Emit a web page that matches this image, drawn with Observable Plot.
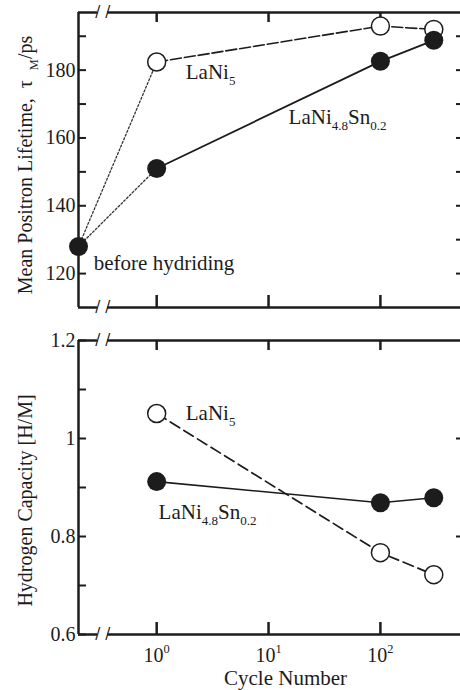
<!DOCTYPE html>
<html><head><meta charset="utf-8">
<script src="https://cdn.jsdelivr.net/npm/d3@7"></script>
<script src="https://cdn.jsdelivr.net/npm/@observablehq/plot@0.6"></script>
<style>
body{margin:0;background:#fff;}
#chart{position:relative;width:460px;height:690px;overflow:hidden;background:#fff;}
#chart svg{display:block;}
</style></head><body><div id="chart"></div>
<script>
// ---------- data ----------
// "before hydriding" is drawn at the origin of the (broken) log axis
const cycles = [0.2, 1, 100, 300];
const lifetimeLaNi5 = [128, 182.4, 193, 192];
const lifetimeSn = [128, 151, 182.6, 188.8];
const capCycles = [1, 100, 300];
const capacityLaNi5 = [1.051, 0.767, 0.722];
const capacitySn = [0.912, 0.869, 0.879];

const xDomain = [0.2, 520];
const xTicks = [1, 10, 100];
const breakX = [0.297, 0.365];

const lifeDomain = [110, 197];
const lifeTicks = [120, 140, 160, 180];
const lifeMinor = [120, 130, 140, 150, 160, 170, 180, 190];
const capDomain = [0.6, 1.2];
const capTicks = [0.6, 0.8, 1, 1.2];
const capMinor = [0.6, 0.7, 0.8, 0.9, 1.0, 1.1, 1.2];
const capRight = [0.8, 1.0];

const topLabels = ["LaNi_{5}", "LaNi_{4.8}Sn_{0.2}", "before hydriding"];
const topLabelX = [1.82, 15.1, 0.274];
const topLabelY = [179.3, 166.2, 122.9];
const botLabels = ["LaNi_{5}", "LaNi_{4.8}Sn_{0.2}"];
const botLabelX = [1.82, 1.04];
const botLabelY = [1.051, 0.85];

const yTitleTop = "Mean Positron Lifetime,  τ  _{M}/ps";
const yTitleBot = "Hydrogen Capacity [H/M]";
const xTitle = "Cycle Number";

// ---------- tables ----------
const lifeRows = cycles.map((c, i) => ({cycle: c, a: lifetimeLaNi5[i], b: lifetimeSn[i]}));
const capRows = capCycles.map((c, i) => ({cycle: c, a: capacityLaNi5[i], b: capacitySn[i]}));
const topLab = topLabels.map((t, i) => ({t, x: topLabelX[i], y: topLabelY[i]}));
const botLab = botLabels.map((t, i) => ({t, x: botLabelX[i], y: botLabelY[i]}));

const FONT = "'Liberation Serif','Times New Roman',serif";
const INK = "#1c1c1c";
const ML = 78, W = 460, FW = W - ML;

function frameMarks(domain, minor, rightTicks, FH) {
  const breaks = breakX.flatMap(x => domain.map(y => ({x, y})));
  return [
    Plot.ruleX([xDomain[0]], {stroke: INK, strokeWidth: 2.5}),
    Plot.ruleY(domain, {stroke: INK, strokeWidth: 2.5}),
    Plot.ruleY(domain, {x1: breakX[0], x2: breakX[1], stroke: "white", strokeWidth: 7}),
    Plot.text(breaks, {x: "x", y: "y", text: () => "/", fontSize: 15, fontFamily: "DejaVu Sans", fill: INK}),
    Plot.tickY(minor, {y: d => d, insetRight: FW - 8, stroke: INK, strokeWidth: 2}),
    Plot.tickY(rightTicks, {y: d => d, insetLeft: FW - 4, stroke: INK, strokeWidth: 2}),
    Plot.tickX(xTicks, {x: d => d, insetBottom: FH - 10, stroke: INK, strokeWidth: 2.5}),
    Plot.tickX(xTicks, {x: d => d, insetTop: FH - 12, stroke: INK, strokeWidth: 2.5})
  ];
}

// ---------- top panel ----------
const topH = 325, topMT = 12, topMB = 18;
const p1 = Plot.plot({
  width: W, height: topH, marginLeft: ML, marginRight: 0, marginTop: topMT, marginBottom: topMB,
  style: {fontFamily: FONT, color: INK, background: "white", overflow: "visible"},
  x: {type: "log", domain: xDomain, axis: null},
  y: {domain: lifeDomain},
  marks: [
    ...frameMarks(lifeDomain, lifeMinor, lifeMinor, topH - topMT - topMB),
    Plot.axisY({ticks: lifeTicks, tickSize: 0, tickPadding: 3, fontSize: 20, label: null, tickFormat: d => String(d)}),
    Plot.text([yTitleTop], {frameAnchor: "left", textAnchor: "middle", lineAnchor: "middle", rotate: -90, dx: -53, dy: 5, fontSize: 20, fill: INK}),
    Plot.line(lifeRows.slice(0, 2), {x: "cycle", y: "a", stroke: "#333", strokeWidth: 1.3, strokeDasharray: "2,2"}),
    Plot.line(lifeRows.slice(0, 2), {x: "cycle", y: "b", stroke: "#333", strokeWidth: 1.3, strokeDasharray: "2,2"}),
    Plot.line(lifeRows.slice(1), {x: "cycle", y: "a", stroke: INK, strokeWidth: 1.6, strokeDasharray: "11,3"}),
    Plot.line(lifeRows.slice(1), {x: "cycle", y: "b", stroke: INK, strokeWidth: 1.8}),
    Plot.dot(lifeRows.slice(1), {x: "cycle", y: "a", r: 9, fill: "white", stroke: INK, strokeWidth: 1.5}),
    Plot.dot(lifeRows, {x: "cycle", y: "b", r: 9.5, fill: INK}),
    Plot.text(topLab, {x: "x", y: "y", text: "t", textAnchor: "start", fontSize: 21, fill: INK})
  ]
});

// ---------- bottom panel ----------
const botH = 690 - topH, botMT = 15, botMB = 56;
const p2 = Plot.plot({
  width: W, height: botH, marginLeft: ML, marginRight: 0, marginTop: botMT, marginBottom: botMB,
  style: {fontFamily: FONT, color: INK, background: "white", overflow: "visible"},
  x: {type: "log", domain: xDomain},
  y: {domain: capDomain},
  marks: [
    ...frameMarks(capDomain, capMinor, capRight, botH - botMT - botMB),
    Plot.axisY({ticks: capTicks, tickSize: 0, tickPadding: 3, fontSize: 20, label: null, tickFormat: d => String(d)}),
    Plot.axisX({ticks: xTicks, tickSize: 0, tickPadding: 13, fontSize: 20, label: null,
      tickFormat: d => `10^{${Math.round(Math.log10(d))}}`}),
    Plot.text([yTitleBot], {frameAnchor: "left", textAnchor: "middle", lineAnchor: "middle", rotate: -90, dx: -53, dy: 13, fontSize: 20, fill: INK}),
    Plot.text([xTitle], {frameAnchor: "bottom", textAnchor: "middle", lineAnchor: "middle", dx: 16, dy: 44, fontSize: 21, fill: INK}),
    Plot.line(capRows, {x: "cycle", y: "a", stroke: INK, strokeWidth: 1.7, strokeDasharray: "11,5"}),
    Plot.line(capRows, {x: "cycle", y: "b", stroke: INK, strokeWidth: 1.6}),
    Plot.dot(capRows, {x: "cycle", y: "a", r: 9, fill: "white", stroke: INK, strokeWidth: 1.5}),
    Plot.dot(capRows, {x: "cycle", y: "b", r: 9.5, fill: INK}),
    Plot.text(botLab, {x: "x", y: "y", text: "t", textAnchor: "start", fontSize: 21, fill: INK})
  ]
});

const host = document.getElementById("chart");
host.appendChild(p1);
host.appendChild(p2);

// ---------- rich text: _{sub} and ^{sup} ----------
function richify(svg) {
  svg.querySelectorAll("text").forEach(t => {
    if (t.querySelector("tspan")) return;
    const s = t.textContent;
    if (!/[_^]\{/.test(s)) return;
    const size = parseFloat(getComputedStyle(t).fontSize) || 20;
    t.textContent = "";
    const re = /([_^])\{([^}]*)\}|([^_^]+)/g;
    let m, shift = 0;
    while ((m = re.exec(s))) {
      const ts = document.createElementNS("http://www.w3.org/2000/svg", "tspan");
      let target;
      if (m[1]) {
        target = m[1] === "_" ? 0.28 * size : -0.42 * size;
        ts.setAttribute("font-size", (0.62 * size) + "px");
        ts.textContent = m[2];
      } else {
        target = 0;
        ts.textContent = m[3];
      }
      if (target !== shift) ts.setAttribute("dy", (target - shift) + "px");
      shift = target;
      t.appendChild(ts);
    }
  });
}
richify(p1);
richify(p2);
</script></body></html>
